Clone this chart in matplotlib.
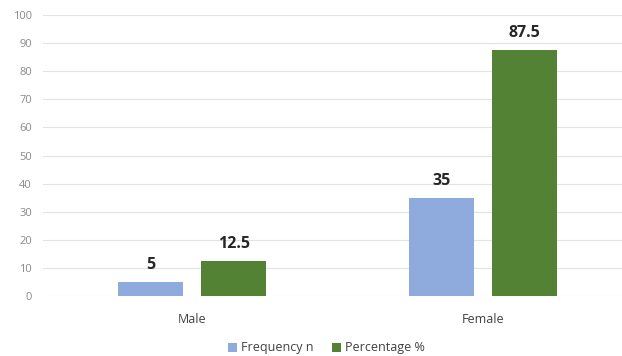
import matplotlib
matplotlib.use("Agg")
import matplotlib.pyplot as plt
import numpy as np

categories = ["Male", "Female"]
frequency = [5, 35]
percentage = [12.5, 87.5]
yticks = [0, 10, 20, 30, 40, 50, 60, 70, 80, 90, 100]

plt.rcParams['font.family'] = ['Open Sans', 'DejaVu Sans']

W, H = 622, 356
fig = plt.figure(figsize=(W/100, H/100), dpi=100)
ax = fig.add_axes([43/W, (H-296)/H, (622-43)/W, (296-15)/H])

x = np.arange(len(categories))
bw = 0.223
off = 0.143
c1 = "#8faadc"
c2 = "#548235"
b1 = ax.bar(x - off, frequency, bw, color=c1, label="Frequency n", zorder=3)
b2 = ax.bar(x + off, percentage, bw, color=c2, label="Percentage %", zorder=3)

for bars, vals in ((b1, frequency), (b2, percentage)):
    for r, v in zip(bars, vals):
        ax.text(r.get_x() + r.get_width()/2, v + 3.2, f"{v:g}", ha="center", va="bottom",
                fontsize=11.5, fontweight="bold", color="#262626")

ax.set_xlim(-0.512, 1.478)
ax.set_ylim(0, 100)
ax.set_yticks(yticks)
ax.set_xticks(x)
ax.set_xticklabels(categories)
ax.tick_params(axis="y", length=0, labelsize=8, labelcolor="#8a8a8a", pad=8)
ax.tick_params(axis="x", length=0, labelsize=9, labelcolor="#404040", pad=12)
ax.grid(axis="y", color="#e3e3e3", linewidth=0.8, zorder=0)
for s in ax.spines.values():
    s.set_visible(False)

fig.legend(handles=[b1, b2], loc="center", bbox_to_anchor=(0.525, (H-348)/H), ncol=2,
           frameon=False, fontsize=9, handlelength=0.7, handleheight=0.7,
           columnspacing=1.5, handletextpad=0.3, labelcolor="#404040")

fig.savefig("out.png", dpi=100)
